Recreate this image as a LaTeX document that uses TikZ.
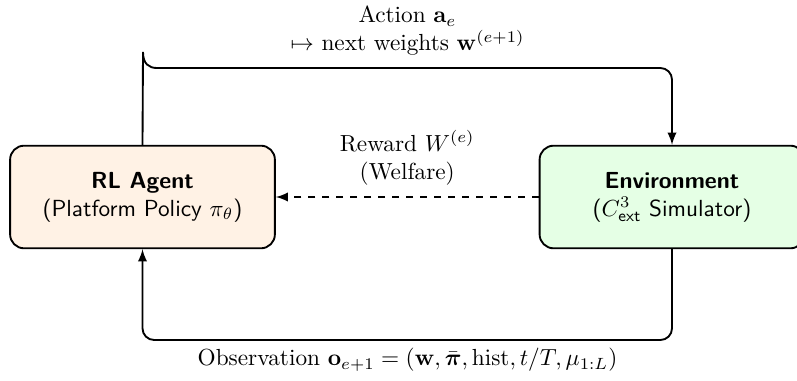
\documentclass[tikz,border=0pt]{standalone}
\usepackage{amsmath,amssymb}
\usepackage{xcolor}
\usepackage{tikz}
\usetikzlibrary{arrows,calc}
\tikzset{
	box/.style={
			draw, thick, rounded corners=6pt, align=center,
			minimum width=4cm, minimum height=1.55cm, font=\sffamily
		}
}

\begin{document}
\begin{tikzpicture}[x=0.0151cm,y=0.0151cm,>=latex]
		\useasboundingbox (0,0) rectangle (797,380);
		\node[box, fill=orange!10] (agent) at (142.5,183) {\textbf{RL Agent}\\(Platform Policy $\pi_\theta$)};
		\node[box, fill=green!10] (env) at (672,183) {\textbf{Environment}\\($C^3_{\text{ext}}$ Simulator)};
		\coordinate (kink) at (143,328);
		\coordinate (obs) at (407.5,40);
		\draw[thick,->] (agent.north) -- (kink) .. controls +(0,-12) and +(-8,0) .. ++(14,-16) [rounded corners=5pt] -| (env.north);
		\node[align=center] (act) at (407.5,349) {Action $\mathbf{a}_e$\\$\mapsto$ next weights $\mathbf{w}^{(e+1)}$};
		\draw[thick,dashed,->] (env.west) -- (agent.east) node[midway, above=1.5pt, align=center] (rew) {Reward $W^{(e)}$\\(Welfare)};
		\draw[thick,->,rounded corners=5pt] (env.south) |- (obs) -| (agent.south);
		\node[below=0pt] (obslbl) at (obs) {Observation $\mathbf{o}_{e+1} = (\mathbf{w}, \bar{\boldsymbol{\pi}}, \mathrm{hist}, t/T, \mu_{1:L})$};
	\end{tikzpicture}
\end{document}
